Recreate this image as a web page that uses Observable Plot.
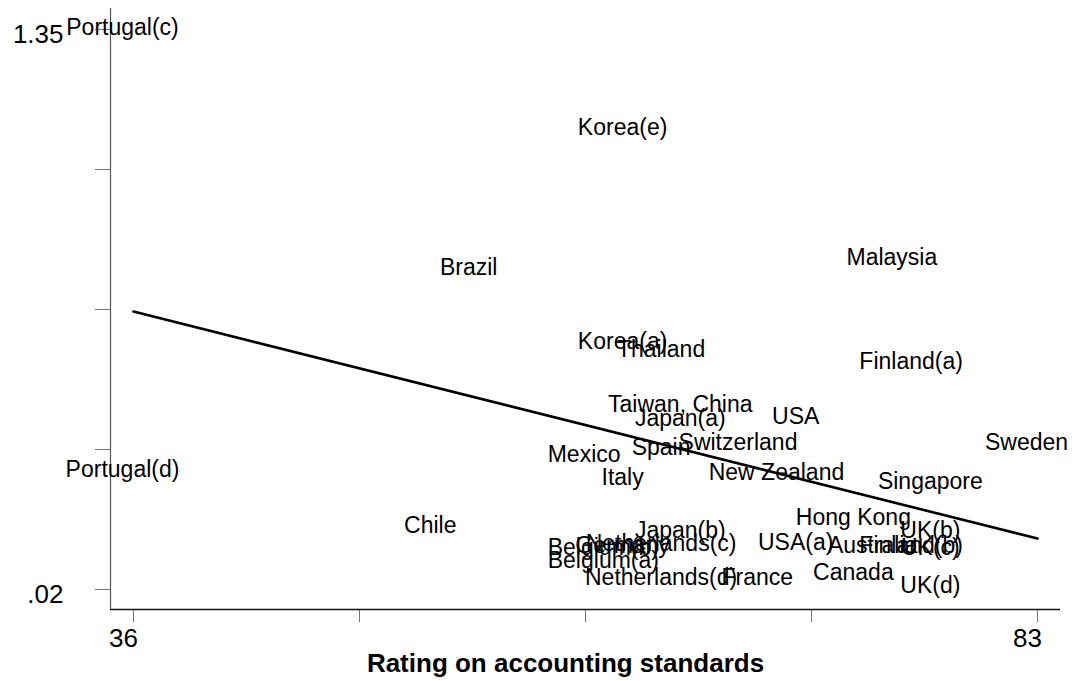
<!DOCTYPE html>
<html>
<head>
<meta charset="utf-8">
<script src="https://cdn.jsdelivr.net/npm/d3@7"></script>
<script src="https://cdn.jsdelivr.net/npm/@observablehq/plot@0.6"></script>
<style>
  html, body { margin: 0; padding: 0; background: #ffffff; }
  #chart svg { display: block; }
</style>
</head>
<body>
<div id="chart"></div>
<script>
// Country labels, accounting-standards rating (x), and y value
const labels = [
  "Portugal(c)", "Portugal(d)", "Korea(e)", "Brazil", "Malaysia", "Korea(a)", "Thailand",
  "Finland(a)", "Taiwan, China", "Japan(a)", "USA", "Switzerland", "Spain", "Mexico",
  "Italy", "New Zealand", "Sweden", "Singapore", "Chile", "Hong Kong", "UK(b)", "UK(c)",
  "Finland(b)", "Australia", "USA(a)", "Canada", "UK(d)", "France", "Netherlands(d)",
  "Japan(b)", "Netherlands(c)", "Germany", "Belgium(b)", "Belgium(a)"
];
const ratings = [
  36, 36, 62, 54, 76, 62, 64,
  77, 65, 65, 71, 68, 64, 60,
  62, 70, 83, 78, 52, 74, 78, 78,
  77, 75, 71, 74, 78, 69, 64,
  65, 64, 62, 61, 61
];
const values = [
  1.355, 0.305, 1.117, 0.785, 0.809, 0.609, 0.590,
  0.562, 0.459, 0.426, 0.431, 0.369, 0.357, 0.341,
  0.286, 0.298, 0.369, 0.277, 0.172, 0.191, 0.160, 0.120,
  0.125, 0.125, 0.131, 0.060, 0.030, 0.0485, 0.0485,
  0.160, 0.129, 0.125, 0.120, 0.089
];

// Fitted line end points
const fitX = [36, 83];
const fitY = [0.680, 0.141];

// Axis ticks and their labels
const xTicks = [36, 47.75, 59.5, 71.25, 83];
const xTickLabels = ["36", "", "", "", "83"];
const yTicks = [0.02, 0.3525, 0.685, 1.0175, 1.35];
const yTickLabels = [".02", "", "", "", "1.35"];
const xTitle = "Rating on accounting standards";

const data = labels.map((name, i) => ({name, x: ratings[i], y: values[i]}));
const fit = fitX.map((x, i) => ({x, y: fitY[i]}));
const xLab = new Map(xTicks.map((t, i) => [t, xTickLabels[i]]));
const yLab = new Map(yTicks.map((t, i) => [t, yTickLabels[i]]));

const xDomain = [34.804, 84.196];
const yDomain = [-0.0275, 1.3999];
const FONT = "'Liberation Sans', Arial, Helvetica, sans-serif";

const chart = Plot.plot({
  width: 1075,
  height: 681,
  marginLeft: 110,
  marginRight: 15,
  marginTop: 8,
  marginBottom: 72,
  style: {background: "#ffffff", fontFamily: FONT, color: "#000", overflow: "visible"},
  x: {domain: xDomain, axis: null},
  y: {domain: yDomain, axis: null},
  marks: [
    // tick marks only
    Plot.axisX({ticks: xTicks, tickSize: 13, tickFormat: () => "", stroke: "#777", label: null}),
    Plot.axisY({ticks: yTicks, tickSize: 15, tickFormat: () => "", stroke: "#777", label: null}),
    // tick labels only (shifted like the reference)
    Plot.axisX({
      ticks: xTicks, tickSize: 0, tickPadding: 19, tickFormat: d => xLab.get(d),
      fontSize: 26, dx: -10, fill: "#000", label: null
    }),
    Plot.axisY({
      ticks: yTicks, tickSize: 0, tickPadding: 47, tickFormat: d => yLab.get(d),
      fontSize: 26, dy: 5, fill: "#000", label: null
    }),
    Plot.ruleX([xDomain[0]], {stroke: "#555", strokeWidth: 1.2}),
    Plot.ruleY([yDomain[0]], {stroke: "#111", strokeWidth: 1.5}),
    Plot.line(fit, {x: "x", y: "y", stroke: "#000", strokeWidth: 2.6}),
    Plot.text(data, {
      x: "x", y: "y", text: "name", fontSize: 23, dx: -11, fill: "#000",
      textAnchor: "middle", lineAnchor: "middle"
    }),
    Plot.text([xTitle], {
      text: d => d, frameAnchor: "bottom", dy: 54, dx: -20,
      fontSize: 26, fontWeight: "bold", fill: "#000", lineAnchor: "middle"
    })
  ]
});
document.getElementById("chart").appendChild(chart);
</script>
</body>
</html>
